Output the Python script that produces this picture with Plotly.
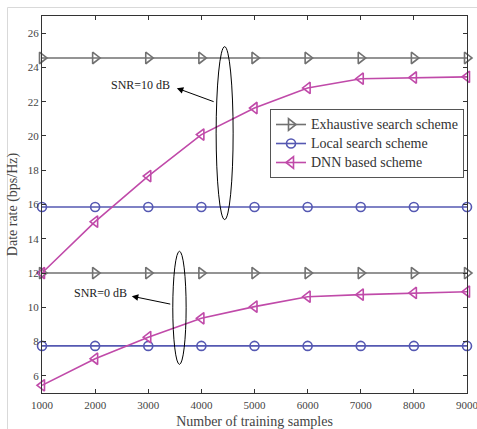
import plotly.graph_objects as go

samples = [1000, 2000, 3000, 4000, 5000, 6000, 7000, 8000, 9000]
exh_10 = [24.55] * 9
local_10 = [15.85] * 9
dnn_10 = [12.0, 15.0, 17.66, 20.08, 21.63, 22.8, 23.34, 23.41, 23.45]
exh_0 = [12.0] * 9
local_0 = [7.75] * 9
dnn_0 = [5.45, 7.0, 8.26, 9.36, 10.04, 10.62, 10.74, 10.84, 10.91]

names = ["Exhaustive search scheme", "Local search scheme", "DNN based scheme"]
colors = ["#717171", "#5558b2", "#c04aa9"]
symbols = ["triangle-right-open", "circle-open", "triangle-left-open"]
sizes = [10, 9, 10]

FONT = "Liberation Serif, Times New Roman, serif"

fig = go.Figure()
series = [(exh_10, exh_0), (local_10, local_0), (dnn_10, dnn_0)]
for i, (s10, s0) in enumerate(series):
    for j, ys in enumerate((s10, s0)):
        fig.add_trace(go.Scatter(
            x=samples, y=ys, mode="lines+markers",
            name='<span style="font-size:14px">' + names[i] + '</span>',
            showlegend=(j == 0), legendgroup=names[i],
            line=dict(color=colors[i], width=1.6),
            marker=dict(symbol=symbols[i], size=sizes[i],
                        line=dict(color=colors[i], width=1.6)),
            cliponaxis=False,
        ))

# ellipses
fig.add_shape(type="circle", xref="x", yref="y", x0=4278, x1=4598, y0=15.12, y1=25.21,
              line=dict(color="black", width=1))
fig.add_shape(type="circle", xref="x", yref="y", x0=3462, x1=3713, y0=6.67, y1=13.27,
              line=dict(color="black", width=1))

# outer light frame
fig.add_shape(type="rect", xref="paper", yref="paper",
              x0=-34.5 / 425, x1=1.1, y0=-0.15, y1=1 + 8.5 / 377,
              line=dict(color="#d9d9d9", width=1))

# arrows
fig.add_annotation(x=3538, y=22.79, ax=4259, ay=21.97, xref="x", yref="y", axref="x", ayref="y",
                   showarrow=True, arrowhead=2, arrowsize=1.3, arrowwidth=1, arrowcolor="black", text="")
fig.add_annotation(x=2690, y=10.65, ax=3443, ay=10.17, xref="x", yref="y", axref="x", ayref="y",
                   showarrow=True, arrowhead=2, arrowsize=1.3, arrowwidth=1, arrowcolor="black", text="")
fig.add_annotation(x=2846, y=22.98, xref="x", yref="y", text="SNR=10 dB", showarrow=False,
                   font=dict(family=FONT, size=12, color="#222"))
fig.add_annotation(x=2098, y=10.85, xref="x", yref="y", text="SNR=0 dB", showarrow=False,
                   font=dict(family=FONT, size=12, color="#222"))

axis_common = dict(showgrid=False, zeroline=False, showline=True, linecolor="#333",
                   linewidth=1, mirror="ticks", ticks="inside", ticklen=4, tickcolor="#333",
                   ticklabeloverflow="allow", automargin=False,
                   tickfont=dict(family=FONT, size=11, color="#444"))

fig.update_xaxes(range=[1000, 9000], tickvals=samples, ticktext=[str(s) for s in samples],
                 ticklabelstandoff=2,
                 title=dict(text="Number of training samples", standoff=6,
                            font=dict(family=FONT, size=14, color="#444")),
                 **axis_common)
fig.update_yaxes(range=[5, 27], tickvals=list(range(6, 27, 2)),
                 title=dict(text="Date rate (bps/Hz)", standoff=6,
                            font=dict(family=FONT, size=14, color="#444")),
                 **axis_common)

fig.update_layout(
    width=477, height=429,
    margin=dict(l=42, r=10, t=16, b=36),
    paper_bgcolor="white", plot_bgcolor="white",
    font=dict(family=FONT, size=12, color="#444"),
    legend=dict(x=(270 - 42) / 425, y=1 - (109 - 16) / 377, xanchor="left", yanchor="top",
                bgcolor="white", bordercolor="#555", borderwidth=1,
                font=dict(family=FONT, size=12, color="#333"),
                tracegroupgap=0, itemwidth=30),
)

fig.write_html("out.html", config={"displayModeBar": False},
               post_script="document.body.style.margin='0';document.body.style.overflow='hidden';")
